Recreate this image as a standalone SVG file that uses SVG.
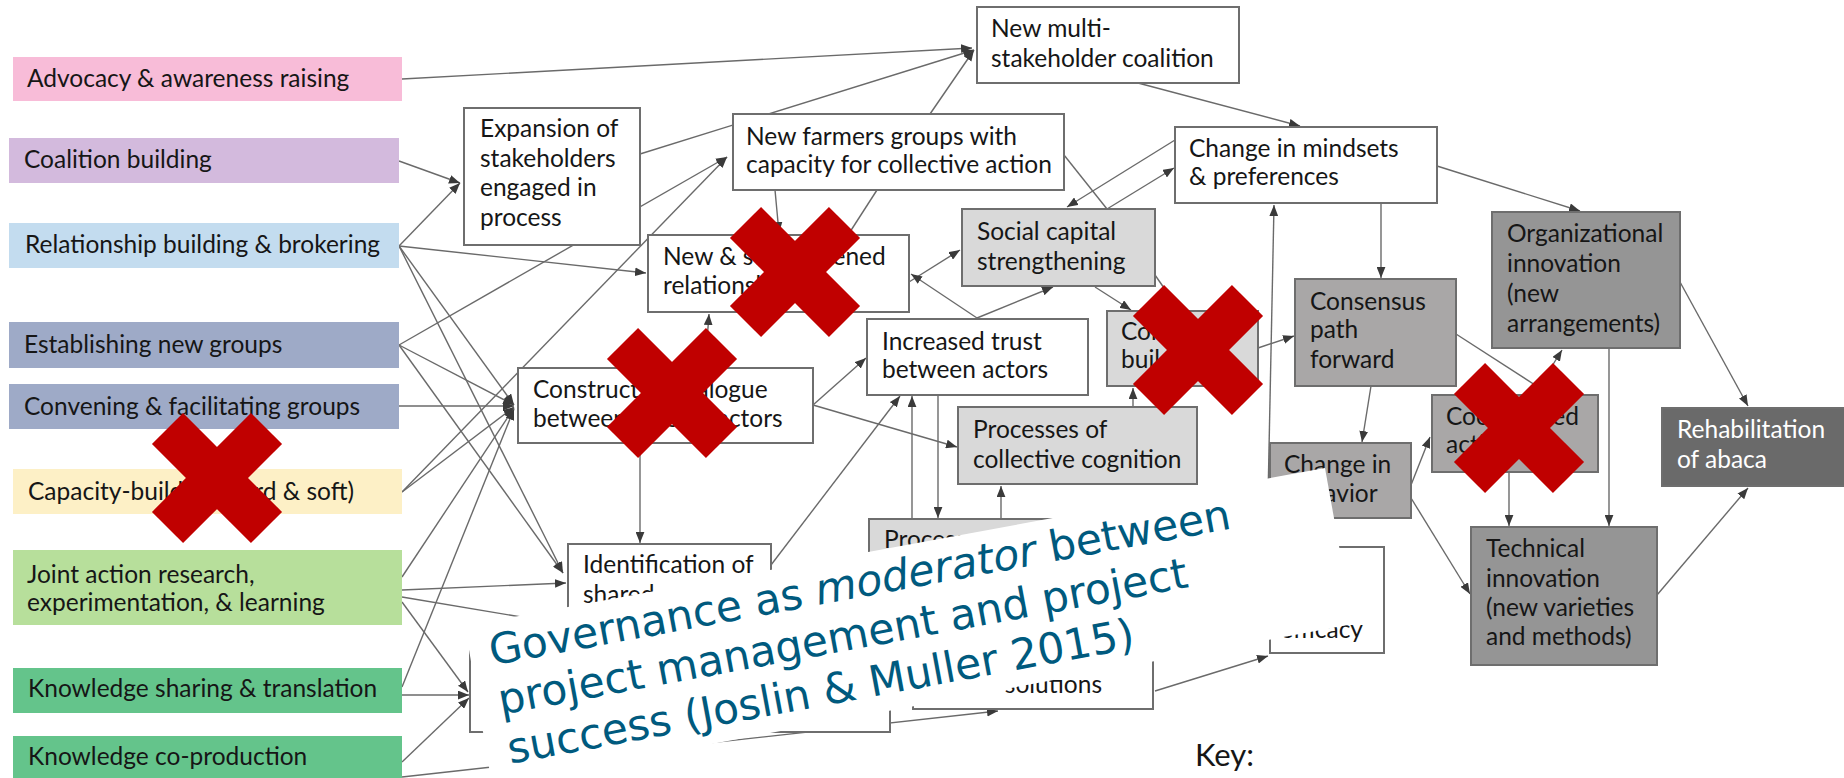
<svg xmlns="http://www.w3.org/2000/svg" xmlns:xlink="http://www.w3.org/1999/xlink" width="1844" height="778" viewBox="0 0 1844 778">
<defs>
<style>
.t{font-family:Lato,"Liberation Sans",sans-serif;font-size:24.5px;fill:#161616}
.tw{font-family:Lato,"Liberation Sans",sans-serif;font-size:24.5px;fill:#ffffff}
.box{stroke:#6e6e6e;stroke-width:2;fill:#ffffff}
.g1{stroke:#6e6e6e;stroke-width:2;fill:#d9d9d9}
.g2{stroke:#6e6e6e;stroke-width:2;fill:#a9a7a7}
.g3{stroke:#6e6e6e;stroke-width:2;fill:#959595}
.g4{stroke:#6e6e6e;stroke-width:2;fill:#6a6a6a}
.c line{stroke:#6a6a6a;stroke-width:1.4;fill:none}
.c .a{marker-end:url(#ah)}
.ov{font-family:"DejaVu Sans",Verdana,sans-serif;font-size:42.5px;fill:#005a7e}
.xm{fill:#c00000}
</style>
<marker id="ah" viewBox="0 0 10 8" refX="10" refY="4" markerWidth="11" markerHeight="9" markerUnits="userSpaceOnUse" orient="auto"><path d="M0,0L10,4L0,8z" fill="#3a3a3a"/></marker>
<g id="redx"><rect class="xm" x="-70" y="-22" width="140" height="44" transform="rotate(45)"/><rect class="xm" x="-70" y="-22" width="140" height="44" transform="rotate(-45)"/></g>
</defs>
<rect width="1844" height="778" fill="#ffffff"/>

<g id="connectors" class="c">
<line class="a" x1="402" y1="79" x2="972" y2="48"/>
<line class="a" x1="399" y1="161" x2="460" y2="183"/>
<line class="a" x1="399" y1="246" x2="460" y2="183"/>
<line class="a" x1="399" y1="246" x2="646" y2="273"/>
<line class="a" x1="399" y1="246" x2="514" y2="405"/>
<line class="a" x1="399" y1="246" x2="563" y2="573"/>
<line class="a" x1="399" y1="345" x2="727" y2="157"/>
<line class="a" x1="399" y1="345" x2="514" y2="405"/>
<line class="a" x1="399" y1="345" x2="563" y2="573"/>
<line class="a" x1="399" y1="406" x2="514" y2="406"/>
<line class="a" x1="402" y1="492" x2="514" y2="407"/>
<line class="a" x1="402" y1="492" x2="727" y2="157"/>
<line class="a" x1="402" y1="577" x2="514" y2="408"/>
<line class="a" x1="402" y1="590" x2="566" y2="583"/>
<line x1="402" y1="597" x2="700" y2="647"/>
<line class="a" x1="402" y1="602" x2="468" y2="692"/>
<line class="a" x1="402" y1="687" x2="514" y2="409"/>
<line class="a" x1="402" y1="695" x2="469" y2="695"/>
<line class="a" x1="402" y1="762" x2="469" y2="698"/>
<line class="a" x1="402" y1="777" x2="998" y2="711"/>
<line class="a" x1="640" y1="154" x2="974" y2="50"/>
<line class="a" x1="930" y1="114" x2="974" y2="50"/>
<line class="a" x1="775" y1="190" x2="779" y2="233"/>
<line x1="877" y1="190" x2="848" y2="235"/>
<line class="a" x1="1138" y1="83" x2="1300" y2="126"/>
<line class="a" x1="1175" y1="140" x2="1067" y2="207"/>
<line x1="1064" y1="155" x2="1107" y2="209"/>
<line class="a" x1="1107" y1="209" x2="1174" y2="168"/>
<line class="a" x1="909" y1="282" x2="960" y2="250"/>
<line class="a" x1="977" y1="318" x2="911" y2="274"/>
<line class="a" x1="977" y1="318" x2="1053" y2="287"/>
<line class="a" x1="1095" y1="287" x2="1131" y2="310"/>
<line x1="1155" y1="275" x2="1180" y2="311"/>
<line class="a" x1="1258" y1="348" x2="1294" y2="336"/>
<line class="a" x1="1133" y1="407" x2="1133" y2="388"/>
<line class="a" x1="813" y1="405" x2="866" y2="358"/>
<line class="a" x1="813" y1="405" x2="957" y2="447"/>
<line class="a" x1="705" y1="368" x2="709" y2="314"/>
<line class="a" x1="640" y1="443" x2="640" y2="543"/>
<line class="a" x1="771" y1="565" x2="900" y2="396"/>
<line class="a" x1="912" y1="519" x2="912" y2="396"/>
<line class="a" x1="938" y1="396" x2="938" y2="518"/>
<line class="a" x1="1001" y1="519" x2="1001" y2="486"/>
<line class="a" x1="1267" y1="547" x2="1274" y2="205"/>
<line class="a" x1="1381" y1="203" x2="1381" y2="278"/>
<line class="a" x1="1437" y1="166" x2="1580" y2="211"/>
<line class="a" x1="1371" y1="386" x2="1362" y2="442"/>
<line class="a" x1="1456" y1="334" x2="1549" y2="394"/>
<line class="a" x1="1411" y1="485" x2="1430" y2="437"/>
<line class="a" x1="1411" y1="498" x2="1470" y2="594"/>
<line class="a" x1="1534" y1="395" x2="1562" y2="350"/>
<line class="a" x1="1509" y1="472" x2="1509" y2="526"/>
<line class="a" x1="1609" y1="348" x2="1609" y2="526"/>
<line class="a" x1="1680" y1="282" x2="1748" y2="406"/>
<line class="a" x1="1657" y1="595" x2="1748" y2="488"/>
<line class="a" x1="1155" y1="691" x2="1268" y2="656"/>
</g>

<g id="n-advocacy"><rect x="13" y="57" width="389" height="44" fill="#f8bcd8"/><text class="t" x="27" y="87">Advocacy &amp; awareness raising</text></g>
<g id="n-coalition"><rect x="9" y="138" width="390" height="45" fill="#d3badd"/><text class="t" x="24" y="168">Coalition building</text></g>
<g id="n-relationship"><rect x="9" y="223" width="390" height="45" fill="#c3dcef"/><text class="t" x="25" y="253">Relationship building &amp; brokering</text></g>
<g id="n-establishing"><rect x="9" y="322" width="390" height="46" fill="#9eaac7"/><text class="t" x="24" y="353">Establishing new groups</text></g>
<g id="n-convening"><rect x="9" y="384" width="390" height="45" fill="#9eaac7"/><text class="t" x="24" y="415">Convening &amp; facilitating groups</text></g>
<g id="n-capacity"><rect x="13" y="469" width="389" height="45" fill="#fdf0c6"/><text class="t" x="28" y="500">Capacity-building (hard &amp; soft)</text></g>
<g id="n-joint"><rect x="13" y="550" width="389" height="75" fill="#b7df9b"/><text class="t" x="27" y="583">Joint action research,</text><text class="t" x="27" y="611">experimentation, &amp; learning</text></g>
<g id="n-ksharing"><rect x="13" y="668" width="389" height="45" fill="#64c48b"/><text class="t" x="28" y="697">Knowledge sharing &amp; translation</text></g>
<g id="n-kcoprod"><rect x="13" y="736" width="389" height="50" fill="#64c48b"/><text class="t" x="28" y="765">Knowledge co-production</text></g>

<g id="n-expansion"><rect class="box" x="464" y="108" width="176" height="137"/><text class="t" x="480" y="137">Expansion of</text><text class="t" x="480" y="167">stakeholders</text><text class="t" x="480" y="196">engaged in</text><text class="t" x="480" y="226">process</text></g>
<g id="n-newmulti"><rect class="box" x="977" y="7" width="262" height="76"/><text class="t" x="991" y="37">New multi-</text><text class="t" x="991" y="67">stakeholder coalition</text></g>
<g id="n-farmers"><rect class="box" x="733" y="114" width="331" height="76"/><text class="t" x="746" y="145">New farmers groups with</text><text class="t" x="746" y="173">capacity for collective action</text></g>
<g id="n-relations"><rect class="box" x="648" y="235" width="261" height="77"/><text class="t" x="663" y="265">New &amp; strengthened</text><text class="t" x="663" y="294">relationships</text></g>
<g id="n-construct"><rect class="box" x="518" y="368" width="295" height="75"/><text class="t" x="533" y="398">Constructive dialogue</text><text class="t" x="533" y="427">between diverse actors</text></g>
<g id="n-social"><rect class="g1" x="962" y="209" width="193" height="77"/><text class="t" x="977" y="240">Social capital</text><text class="t" x="977" y="270">strengthening</text></g>
<g id="n-trust"><rect class="box" x="867" y="319" width="221" height="76"/><text class="t" x="882" y="350">Increased trust</text><text class="t" x="882" y="378">between actors</text></g>
<g id="n-mindsets"><rect class="box" x="1175" y="127" width="262" height="76"/><text class="t" x="1189" y="157">Change in mindsets</text><text class="t" x="1189" y="185">&amp; preferences</text></g>
<g id="n-consbuild"><rect class="g1" x="1107" y="311" width="151" height="75"/><text class="t" x="1121" y="340">Consensus</text><text class="t" x="1121" y="368">building</text></g>
<g id="n-cognition"><rect class="g1" x="958" y="407" width="239" height="77"/><text class="t" x="973" y="438">Processes of</text><text class="t" x="973" y="468">collective cognition</text></g>
<g id="n-path"><rect class="g2" x="1295" y="279" width="161" height="107"/><text class="t" x="1310" y="310">Consensus</text><text class="t" x="1310" y="338">path</text><text class="t" x="1310" y="368">forward</text></g>
<g id="n-behavior"><rect class="g2" x="1270" y="443" width="141" height="75"/><text class="t" x="1284" y="473">Change in</text><text class="t" x="1284" y="502">behavior</text></g>
<g id="n-coord"><rect class="g2" x="1432" y="395" width="166" height="77"/><text class="t" x="1446" y="425">Coordinated</text><text class="t" x="1446" y="453">action</text></g>
<g id="n-org"><rect class="g3" x="1492" y="212" width="188" height="136"/><text class="t" x="1507" y="242">Organizational</text><text class="t" x="1507" y="272">innovation</text><text class="t" x="1507" y="302">(new</text><text class="t" x="1507" y="332">arrangements)</text></g>
<g id="n-rehab"><rect class="g4" x="1662" y="408" width="190" height="78"/><text class="tw" x="1677" y="438">Rehabilitation</text><text class="tw" x="1677" y="468">of abaca</text></g>
<g id="n-technical"><rect class="g3" x="1471" y="527" width="186" height="138"/><text class="t" x="1486" y="557">Technical</text><text class="t" x="1486" y="587">innovation</text><text class="t" x="1486" y="616">(new varieties</text><text class="t" x="1486" y="645">and methods)</text></g>
<g id="n-ident"><rect class="box" x="568" y="544" width="203" height="100"/><text class="t" x="583" y="573">Identification of</text><text class="t" x="583" y="603">shared</text></g>
<g id="n-process"><rect class="g1" x="869" y="519" width="241" height="80"/><text class="t" x="884" y="548">Processes</text></g>
<g id="n-efficacy"><rect class="box" x="1270" y="547" width="114" height="106"/><text class="t" x="1363" y="638" text-anchor="end">efficacy</text></g>
<g id="n-solutions"><rect class="box" x="913" y="620" width="240" height="89"/><text class="t" x="1102" y="693" text-anchor="end">solutions</text></g>
<g id="n-bottomleft"><rect class="box" x="470" y="640" width="420" height="92"/></g>

<g id="key"><text class="t" x="1195" y="766" style="font-size:31px">Key:</text></g>

<g id="overlay">
<polygon points="465,626 1325,468 1353,624 492,785" fill="#ffffff"/>
<g transform="translate(464,630) rotate(-10.5)">
<text class="ov" x="21" y="40">Governance as <tspan font-style="italic">moderator</tspan> between</text>
<text class="ov" x="21" y="90">project management and project</text>
<text class="ov" x="21" y="140">success (Joslin &amp; Muller 2015)</text>
</g>
</g>

<g id="crosses">
<use xlink:href="#redx" transform="translate(795,272)"/>
<use xlink:href="#redx" transform="translate(672,393)"/>
<use xlink:href="#redx" transform="translate(217,478)"/>
<use xlink:href="#redx" transform="translate(1198,350)"/>
<use xlink:href="#redx" transform="translate(1519,428)"/>
</g>
</svg>
